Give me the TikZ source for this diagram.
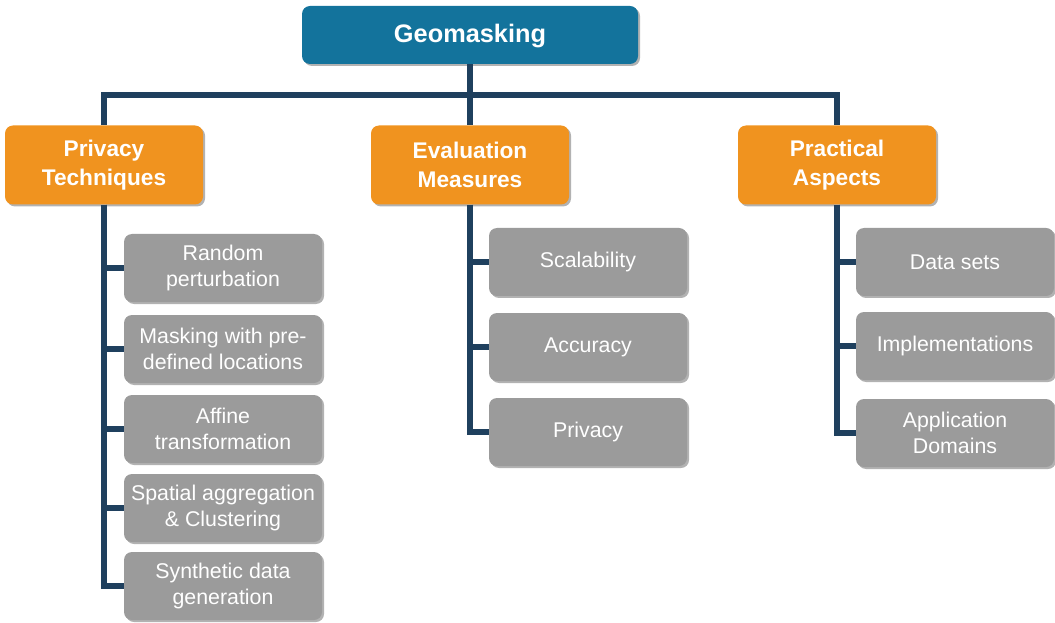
\documentclass[tikz,border=0pt]{standalone}
\usepackage{fontspec}
\setmainfont{Liberation Sans}
\usetikzlibrary{shadows}

\definecolor{geoblue}{RGB}{19,115,156}
\definecolor{aspectorange}{RGB}{240,147,31}
\definecolor{itemgray}{RGB}{155,155,155}
\definecolor{linknavy}{RGB}{31,64,94}

\tikzset{
	boxshadow/.style={drop shadow={shadow xshift=1.5pt,shadow yshift=-1.5pt,opacity=0.3,fill=black}},
	rootbox/.style={rectangle,rounded corners=6pt,fill=geoblue,boxshadow,text=white,font=\fontsize{19}{22}\selectfont\bfseries,text depth=2pt,minimum width=252pt,minimum height=43.5pt,inner sep=0pt},
	aspectbox/.style={rectangle,rounded corners=6pt,fill=aspectorange,boxshadow,text=white,font=\fontsize{17}{21.75}\selectfont\bfseries,align=center,minimum width=148.5pt,minimum height=59.25pt,inner sep=0pt},
	itembox/.style={rectangle,rounded corners=6pt,fill=itemgray,boxshadow,text=white,font=\fontsize{16}{19.5}\selectfont,align=center,minimum width=148.5pt,minimum height=51pt,inner sep=0pt},
	link/.style={draw=linknavy,line width=4.5pt}
}

\begin{document}
\begin{tikzpicture}[x=0.75pt,y=0.75pt,yscale=-1,xscale=1]
	\useasboundingbox (0,0) rectangle (1055,623);
	
	%Shape: Root
	\node [rootbox] (geo) at (470,35) {Geomasking};
	%Shape: Aspects
	\node [aspectbox] (tech) at (104,165) {Privacy\\Techniques};
	\node [aspectbox] (eval) at (470,165) {Evaluation\\Measures};
	\node [aspectbox] (prac) at (837,165) {Practical\\Aspects};
	%Shape: Privacy techniques
	\node [itembox] (rand) at (223,268) {Random\\perturbation};
	\node [itembox] (mask) at (223,349) {Masking with pre-\\defined locations};
	\node [itembox] (affine) at (223,429) {Affine\\transformation};
	\node [itembox] (aggr) at (223,508) {Spatial aggregation\\\& Clustering};
	\node [itembox] (synth) at (223,586) {Synthetic data\\generation};
	%Shape: Evaluation measures
	\node [itembox] (scal) at (588,262) {Scalability};
	\node [itembox] (accu) at (588,347) {Accuracy};
	\node [itembox] (priv) at (588,432) {Privacy};
	%Shape: Practical aspects
	\node [itembox] (data) at (955,262) {Data sets};
	\node [itembox] (impl) at (955,346) {Implementations};
	\node [itembox] (appl) at (955,433) {Application\\Domains};
	
	%Straight Lines
	\coordinate (bus) at (470,95);
	\draw [link] (tech.north) |- (bus) -| (prac.north);
	\draw [link] (geo.south) -- (eval.north);
	\foreach \item in {rand,mask,affine,aggr,synth}
		\draw [link] (tech.south) |- (\item.west);
	\foreach \item in {scal,accu,priv}
		\draw [link] (eval.south) |- (\item.west);
	\foreach \item in {data,impl,appl}
		\draw [link] (prac.south) |- (\item.west);
	
\end{tikzpicture}
\end{document}
